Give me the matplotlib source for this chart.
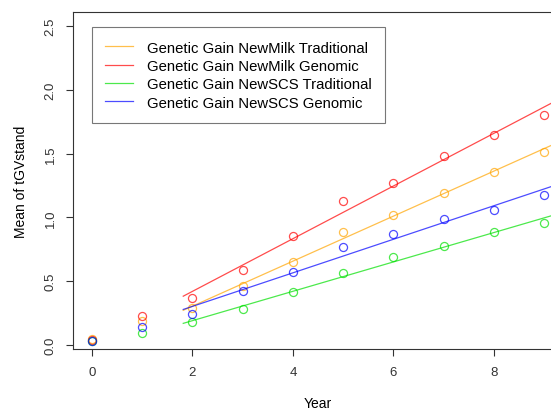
import numpy as np
import matplotlib
matplotlib.use("Agg")
import matplotlib.pyplot as plt

plt.rcParams["font.family"] = ["Liberation Sans", "DejaVu Sans"]

# --- dados ---
anos = np.arange(0, 10)
milk_trad = [0.045, 0.184, 0.288, 0.459, 0.650, 0.883, 1.021, 1.194, 1.359, 1.516]
milk_gen = [0.040, 0.225, 0.364, 0.589, 0.856, 1.131, 1.268, 1.480, 1.650, 1.804]
scs_trad = [0.030, 0.092, 0.176, 0.280, 0.416, 0.561, 0.689, 0.773, 0.885, 0.958]
scs_gen = [0.028, 0.139, 0.241, 0.422, 0.571, 0.770, 0.870, 0.987, 1.056, 1.178]

rotulos = [
    "Genetic Gain NewMilk Traditional",
    "Genetic Gain NewMilk Genomic",
    "Genetic Gain NewSCS Traditional",
    "Genetic Gain NewSCS Genomic",
]
cores = ["#FFA500", "#FF0000", "#00E000", "#0000FF"]
series = [milk_trad, milk_gen, scs_trad, scs_gen]

W, H = 551, 414
fig = plt.figure(figsize=(W / 100, H / 100), dpi=100)
# eixo maior que a figura à direita (o original está cortado)
esq, dir_, base, topo = 73.3, 562.5, 350.0, 13.3
ax = fig.add_axes([esq / W, 1 - base / H, (dir_ - esq) / W, (base - topo) / H])

x_fit = np.array([1.82, 9.6])
for ys, cor, rot in zip(series, cores, rotulos):
    ys = np.array(ys)
    ax.plot(anos, ys, "o", mfc="none", mec=cor, mew=0.9, ms=5.8, alpha=0.7)
    # regressão linear com anos 2..9
    b, a = np.polyfit(anos[2:], ys[2:], 1)
    ax.plot(x_fit, a + b * x_fit, color=cor, lw=0.9, alpha=0.7, label=rot)

ax.set_xlim(-0.366, 9.36)
ax.set_ylim(-0.034, 2.61)
ax.set_xticks([0, 2, 4, 6, 8])
ax.set_yticks([0.0, 0.5, 1.0, 1.5, 2.0, 2.5])
ax.set_yticklabels(["0.0", "0.5", "1.0", "1.5", "2.0", "2.5"], rotation=90, va="center")
ax.tick_params(direction="out", length=5, width=0.8, labelsize=9.5, colors="#333333", pad=7)
for s in ax.spines.values():
    s.set_color("#333333")
    s.set_linewidth(0.8)

ax.set_xlabel("Year", fontsize=10, labelpad=13.5)
ax.set_ylabel("Mean of tGVstand", fontsize=10, labelpad=12)

leg = ax.legend(loc="upper left", bbox_to_anchor=((91.5 - esq) / (dir_ - esq), (base - 28.3) / (base - topo)),
                fontsize=10.7, frameon=True, fancybox=False, handlelength=1.9, handletextpad=0.95,
                borderpad=0.9, labelspacing=0.29, borderaxespad=0)
leg.get_frame().set_edgecolor("#555555")
leg.get_frame().set_linewidth(0.8)

fig.savefig("out.png", dpi=100)
